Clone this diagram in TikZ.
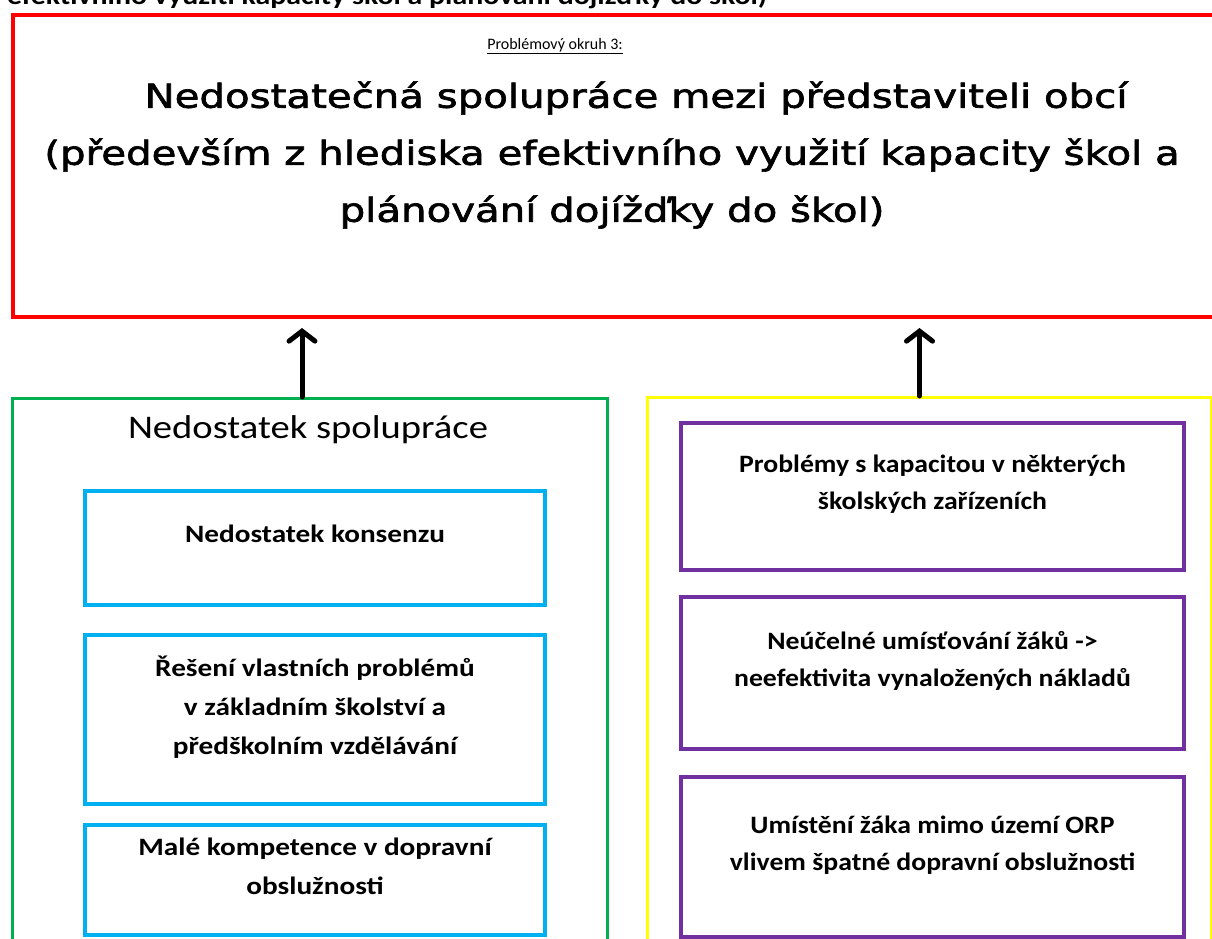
\documentclass[tikz,border=0pt]{standalone}
\usepackage{fontspec}
\setmainfont{Carlito}
\newfontfamily\titlefont[FakeStretch=1.22, FakeBold=2]{DejaVu Sans}
\newfontfamily\causefont[FakeStretch=1.17]{Carlito}
\newfontfamily\effectfont[FakeStretch=1.11]{Carlito}
\usetikzlibrary{arrows.meta}

\definecolor{okruhred}{HTML}{FF0000}
\definecolor{spolugreen}{HTML}{00B050}
\definecolor{kapayellow}{HTML}{FFFF00}
\definecolor{causeblue}{HTML}{00B0F0}
\definecolor{causepurple}{HTML}{7030A0}

\tikzset{
  outerbox/.style={draw, line width=3pt, anchor=north west, inner sep=0pt},
  causebox/.style={draw=causeblue, line width=4pt, anchor=north west,
    minimum width=460pt, align=center, text depth=28pt,
    font=\causefont\bfseries\fontsize{25}{39}\selectfont},
  effectbox/.style={draw=causepurple, line width=4pt, anchor=north west,
    minimum width=503pt, align=center, text depth=28pt,
    font=\effectfont\bfseries\fontsize{25}{37}\selectfont},
  uparrow/.style={line width=5pt, line cap=round,
    -{Straight Barb[length=10pt,width=26pt,line cap=round]}, shorten >=9pt},
}

\begin{document}
\begin{tikzpicture}[x=1pt, y=-1pt]
    \useasboundingbox (0,0) rectangle (1212,939);
    \clip (0,0) rectangle (1212,939);

    % cut-off line above the picture
    \node[anchor=base west, inner sep=0pt, font=\causefont\bfseries\fontsize{25.5}{26}\selectfont] (cut) at (7,5)
        {efektivního využití kapacity škol a plánování dojížďky do škol)};

    % main problem
    \node[outerbox, draw=okruhred, line width=4pt, minimum width=1240pt, minimum height=302pt] (problem) at (11,13) {};
    \node[font=\fontsize{16}{16}\selectfont] (okruh) at (555,46) {\underline{Problémový okruh 3:}};
    \node[align=center, font=\titlefont\fontsize{33}{57}\selectfont] (title) at (612,155)
        {\hspace*{48pt}Nedostatečná spolupráce mezi představiteli obcí\\
         (především z hlediska efektivního využití kapacity škol a\\
         plánování dojížďky do škol)};

    % left column
    \node[outerbox, draw=spolugreen, minimum width=595pt, minimum height=600pt] (spoluprace) at (11,397) {};
    \node[font=\causefont\fontsize{33}{33}\selectfont] (spolulabel) at (308,430) {Nedostatek spolupráce};
    \node[causebox, minimum height=114pt] (konsenzus) at (83,489) {Nedostatek konsenzu};
    \node[causebox, minimum height=169pt] (reseni) at (83,633)
        {Řešení vlastních problémů\\ v základním školství a\\ předškolním vzdělávání};
    \node[causebox, minimum height=110pt] (kompetence) at (83,823)
        {Malé kompetence v dopravní\\ obslužnosti};

    % right column
    \node[outerbox, draw=kapayellow, minimum width=564pt, minimum height=600pt] (kapacita) at (646,396) {};
    \node[effectbox, minimum height=147pt] (zarizeni) at (679,421)
        {Problémy s kapacitou v některých\\ školských zařízeních};
    \node[effectbox, minimum height=152pt] (umistovani) at (679,595)
        {Neúčelné umísťování žáků ->\\ neefektivita vynaložených nákladů};
    \node[effectbox, minimum height=160pt] (mimoorp) at (679,775)
        {Umístění žáka mimo území ORP\\ vlivem špatné dopravní obslužnosti};

    \draw[uparrow] ([xshift=-8pt]spoluprace.north) -- ([xshift=-8pt]spoluprace.north |- problem.south);
    \draw[uparrow] ([xshift=-10pt]kapacita.north) -- ([xshift=-10pt]kapacita.north |- problem.south);
\end{tikzpicture}
\end{document}
